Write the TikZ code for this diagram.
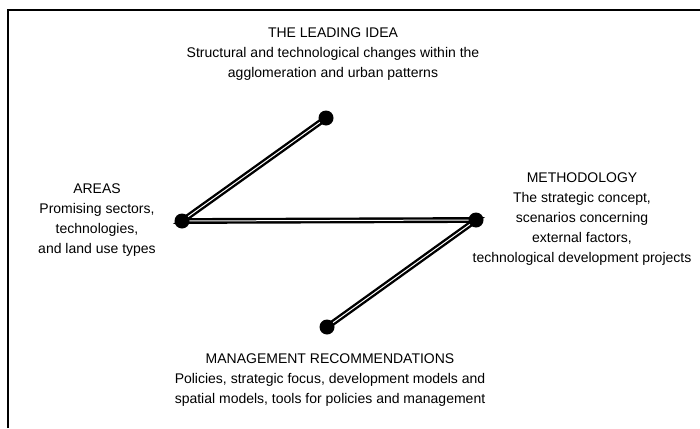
\documentclass[tikz,border=0pt]{standalone}
\usepackage{fontspec}
\setmainfont{Liberation Sans}
\usetikzlibrary{positioning}

\tikzset{
  label text/.style={align=center,font=\fontsize{14}{19.8}\selectfont},
  link/.style={double=white,double distance=1pt,line width=2.4pt},
  dot/.style={fill=black}
}

\begin{document}
\begin{tikzpicture}[x=1pt,y=-1pt]
	\useasboundingbox (0,0) rectangle (700,428);
	\coordinate (a) at (182,221);
	\coordinate (i) at (326,118);
	\coordinate (m) at (476,220);
	\coordinate (r) at (327,327);
	
	% frame
	\draw[line width=1.3pt] (8,428) -- (8,10) -- (700,10);
	
	% links between the four points
	\draw[link] (i) -- (a) -- (m) -- (r);
	
	% points
	\foreach \p in {a,i,m,r}
	  \fill[dot] (\p) circle (7.5);
	
	% texts
	\node[label text] (idea) at (333,54) {THE LEADING IDEA\\Structural and technological changes within the\\agglomeration and urban patterns};
	\node[label text] (areas) at (97,220) {AREAS\\Promising sectors,\\technologies,\\and land use types};
	\node[label text] (method) at (582,219) {METHODOLOGY\\The strategic concept,\\scenarios concerning\\external factors,\\technological development projects};
	\node[label text] (mgmt) at (330,380) {MANAGEMENT RECOMMENDATIONS\\Policies, strategic focus, development models and\\spatial models, tools for policies and management};
\end{tikzpicture}
\end{document}
